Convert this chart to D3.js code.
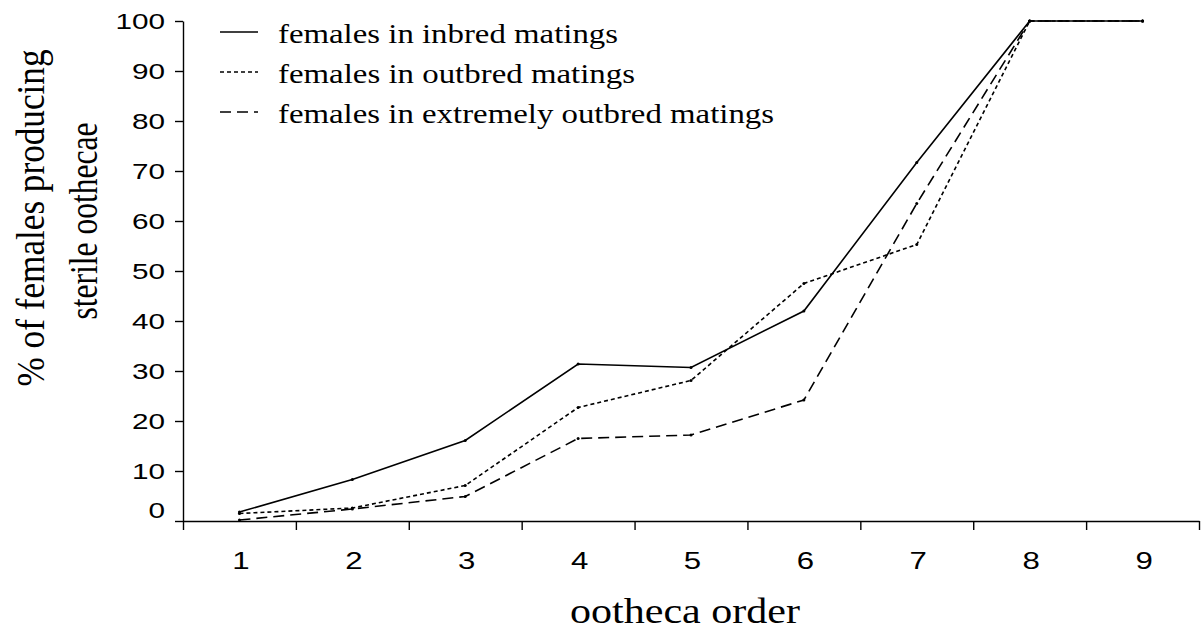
<!DOCTYPE html>
<html>
<head>
<meta charset="utf-8">
<script src="https://cdn.jsdelivr.net/npm/d3@7"></script>
<style>
  body { margin: 0; background: #fff; }
  svg { display: block; }
  .tick text { font-family: "Liberation Sans", Arial, sans-serif; fill: #000; }
  .serif { font-family: "Liberation Serif", "Times New Roman", serif; fill: #000; }
</style>
</head>
<body>
<svg id="plot" width="1201" height="632"></svg>
<script>
// chart data
var categories = [1, 2, 3, 4, 5, 6, 7, 8, 9];
var inbred = [1.8, 8.3, 16.1, 31.4, 30.7, 42.0, 71.7, 100, 100];
var outbred = [1.5, 2.6, 7.1, 22.7, 28.1, 47.5, 55.3, 100, 100];
var extremeOutbred = [0.2, 2.4, 4.9, 16.5, 17.2, 24.2, 63.5, 100, 100];
var yTicks = [0, 10, 20, 30, 40, 50, 60, 70, 80, 90, 100];
var seriesNames = ["females in inbred matings", "females in outbred matings", "females in extremely outbred matings"];

var svg = d3.select("#plot");
var plotLeft = 183, plotRight = 1199, plotTop = 21, plotBottom = 521;

var x = d3.scaleBand().domain(categories).range([plotLeft, plotRight]);
var xEdge = d3.scaleLinear().domain([0, categories.length]).range([plotLeft, plotRight]);
var y = d3.scaleLinear().domain([0, 100]).range([plotBottom, plotTop]);

// series table with line styles
var series = [
    {name: seriesNames[0], values: inbred, dash: null},
    {name: seriesNames[1], values: outbred, dash: "4,3"},
    {name: seriesNames[2], values: extremeOutbred, dash: "11,6"}
];

// y axis
var yAxis = svg.append("g")
    .attr("transform", "translate(" + plotLeft + ",0)")
    .call(d3.axisLeft(y).tickValues(yTicks).tickSize(8).tickSizeOuter(0));
yAxis.select(".domain").attr("stroke", "#000").attr("stroke-width", 1.4);
yAxis.selectAll(".tick line").attr("stroke", "#000").attr("stroke-width", 1.4);
yAxis.selectAll(".tick text")
    .style("font-size", "22px")
    .attr("x", -18 / 1.35)
    .attr("dy", function(d) { return d === 0 ? "-0.15em" : "0.35em"; })
    .attr("transform", "scale(1.35,1)");

// x axis: labels at band centres, tick marks at band edges
var xAxis = svg.append("g")
    .attr("transform", "translate(0," + plotBottom + ")")
    .call(d3.axisBottom(x).tickSize(0).tickSizeOuter(0));
xAxis.select(".domain").remove();
xAxis.selectAll(".tick text")
    .style("font-size", "24px")
    .attr("x", 1.5 / 1.3)
    .attr("y", 48)
    .attr("dy", 0)
    .attr("transform", "scale(1.3,1)");

var xTicks = svg.append("g")
    .attr("transform", "translate(0," + plotBottom + ")")
    .call(d3.axisBottom(xEdge).tickValues(d3.range(categories.length + 1)).tickFormat("").tickSize(9).tickSizeOuter(0));
xTicks.select(".domain").attr("stroke", "#000").attr("stroke-width", 1.4);
xTicks.selectAll(".tick line").attr("stroke", "#000").attr("stroke-width", 1.4);

// lines
var line = d3.line()
    .x(function(d, i) { return x(categories[i]) + x.bandwidth() / 2; })
    .y(function(d) { return y(d); });

var g = svg.append("g");
series.forEach(function(s) {
    g.append("path")
        .datum(s.values)
        .attr("fill", "none")
        .attr("stroke", "#000")
        .attr("stroke-width", 1.6)
        .attr("stroke-dasharray", s.dash)
        .attr("d", line);

    g.selectAll(null)
        .data(s.values)
        .enter().append("circle")
        .attr("cx", function(d, i) { return x(categories[i]) + x.bandwidth() / 2; })
        .attr("cy", function(d) { return y(d); })
        .attr("r", 1.5)
        .attr("fill", "#000");
});

// legend
var legendWidths = [340, 357, 496];
var legend = svg.append("g");
series.forEach(function(s, i) {
    var ly = 32 + i * 40;
    legend.append("line")
        .attr("x1", 220).attr("x2", 258)
        .attr("y1", ly).attr("y2", ly)
        .attr("stroke", "#000")
        .attr("stroke-width", 1.6)
        .attr("stroke-dasharray", s.dash);
    legend.append("text")
        .attr("class", "serif")
        .attr("x", 278)
        .attr("y", ly + 11)
        .style("font-size", "28px")
        .attr("textLength", legendWidths[i])
        .attr("lengthAdjust", "spacingAndGlyphs")
        .text(s.name);
});

// axis titles
svg.append("text")
    .attr("class", "serif")
    .attr("x", 685)
    .attr("y", 623)
    .attr("text-anchor", "middle")
    .style("font-size", "36px")
    .attr("textLength", 230)
    .attr("lengthAdjust", "spacingAndGlyphs")
    .text("ootheca order");

svg.append("text")
    .attr("class", "serif")
    .attr("transform", "translate(44,218) scale(1.2,1) rotate(-90)")
    .attr("text-anchor", "middle")
    .style("font-size", "34px")
    .attr("textLength", 337)
    .attr("lengthAdjust", "spacingAndGlyphs")
    .text("% of females producing");

svg.append("text")
    .attr("class", "serif")
    .attr("transform", "translate(97,221) scale(1.2,1) rotate(-90)")
    .attr("text-anchor", "middle")
    .style("font-size", "34px")
    .attr("textLength", 197)
    .attr("lengthAdjust", "spacingAndGlyphs")
    .text("sterile oothecae");
</script>
</body>
</html>
